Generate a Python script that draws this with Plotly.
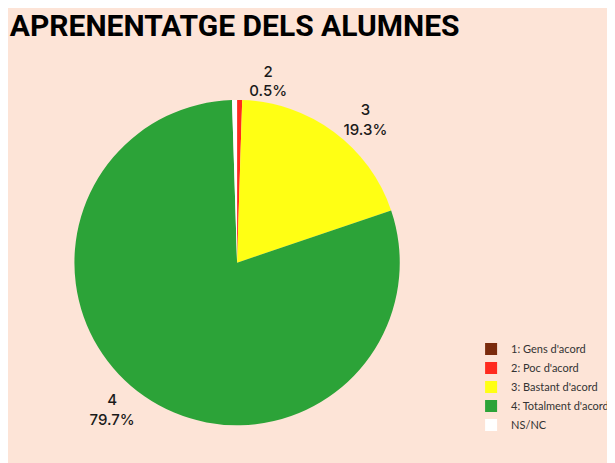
import plotly.graph_objects as go

labels = ["1: Gens d'acord", "2: Poc d'acord", "3: Bastant d'acord", "4: Totalment d'acord", "NS/NC"]
short_labels = ["1", "2", "3", "4", "NS/NC"]
values = [0.0, 0.5, 19.3, 79.7, 0.5]
colors = ["#7A2A0C", "#FF2A1E", "#FFFF14", "#2CA338", "#FFFFFF"]
show_text = [False, True, True, True, False]

templates = ["%{customdata}<br>%{percent:.1%}" if s else "" for s in show_text]

fig = go.Figure(go.Pie(
    labels=labels,
    values=values,
    customdata=short_labels,
    texttemplate=templates,
    textposition="outside",
    textfont=dict(family="Inter, Roboto, sans-serif", size=15, color="#1a1a1a", weight=500),
    marker=dict(colors=colors, line=dict(width=0)),
    sort=False,
    direction="clockwise",
    rotation=0,
    hole=0,
    domain=dict(x=[0.108, 0.637], y=[0.096, 0.804]),
    showlegend=True,
))

fig.update_layout(
    width=615, height=463,
    margin=dict(l=0, r=0, t=0, b=0),
    paper_bgcolor="#FDE4D7",
    plot_bgcolor="#FDE4D7",
    title=dict(
        text="<b>APRENENTATGE DELS ALUMNES</b>",
        x=0.003, xanchor="left", y=0.962, yanchor="middle",
        font=dict(family="Roboto, Open Sans, sans-serif", size=30, color="#000000"),
    ),
    legend=dict(
        x=0.753, xanchor="left", y=0.295, yanchor="top",
        font=dict(family="Lato, Roboto, sans-serif", size=11, color="#333333"),
        bgcolor="rgba(0,0,0,0)",
        traceorder="normal",
    ),
)

fig.write_html("out.html")
